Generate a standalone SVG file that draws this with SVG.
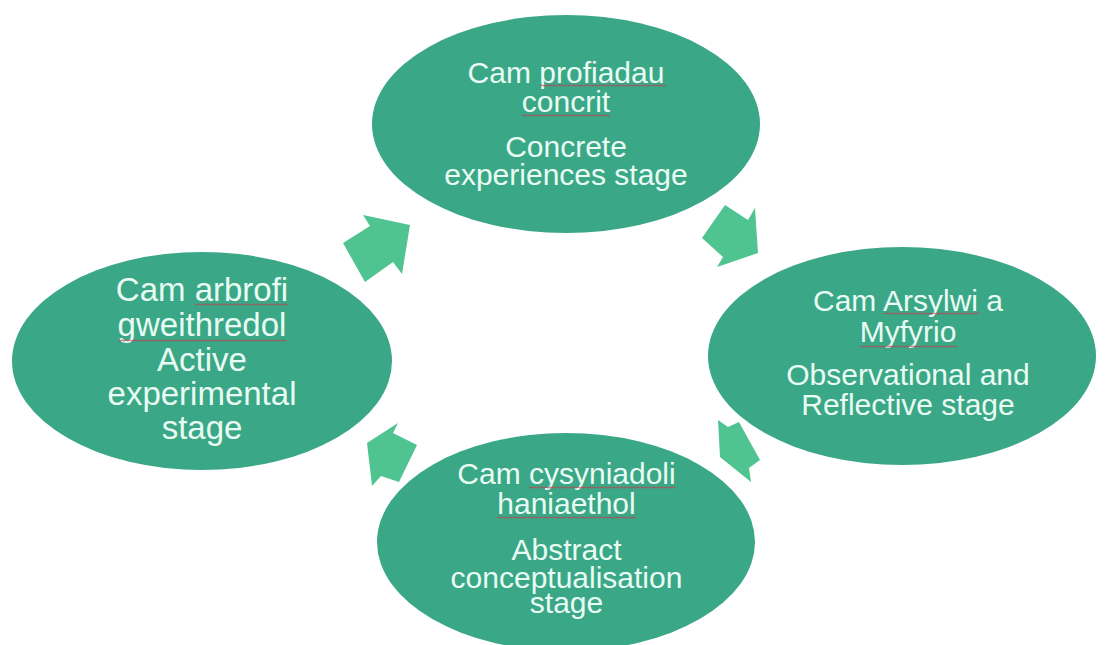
<svg xmlns="http://www.w3.org/2000/svg" width="1106" height="645" viewBox="0 0 1106 645">
  <defs>
    <style>
      .node { fill: #3aa886; }
      .arrow { fill: #50c490; }
      .t { font-family: "Liberation Sans", Arial, sans-serif; fill: #e9fbf3; text-anchor: middle; }
      .s30 { font-size: 30px; }
      .s33 { font-size: 33px; }
      .sq { fill: url(#squig); }
    </style>
    <pattern id="squig" x="0" y="0" width="4" height="3" patternUnits="userSpaceOnUse">
      <path d="M0,2.2 L2,0.8 L4,2.2" fill="none" stroke="#c2394e" stroke-width="0.9"/>
    </pattern>
  </defs>
  <rect width="1106" height="645" fill="#ffffff"/>

  <g id="connectors">
    <polygon class="arrow" points="410,225 363,215 370,226 343,243 365,282 393,262 402,274"/>
    <polygon class="arrow" points="758,253 755,208 748,220 725,205 702,238 723,257 717,267"/>
    <polygon class="arrow" points="720,457 718,420 728,427 739,422 760,460 749,468 751,482"/>
    <polygon class="arrow" points="367,443 398,423 393,433 417,445 399,482 381,476 372,486"/>
  </g>

  <g id="node-concrete">
    <ellipse class="node" cx="566" cy="124" rx="194" ry="109"/>
    <text class="t s30" x="566" y="83">Cam profiadau</text>
    <text class="t s30" x="566" y="112">concrit</text>
    <text class="t s30" x="566" y="157">Concrete</text>
    <text class="t s30" x="566" y="185">experiences stage</text>
    <rect class="sq" x="540" y="84" width="126" height="3"/>
    <rect class="sq" x="522" y="114" width="88" height="3"/>
  </g>

  <g id="node-observational">
    <ellipse class="node" cx="902" cy="356" rx="194" ry="109"/>
    <text class="t s30" x="908" y="311">Cam Arsylwi a</text>
    <text class="t s30" x="908" y="342">Myfyrio</text>
    <text class="t s30" x="908" y="385">Observational and</text>
    <text class="t s30" x="908" y="415">Reflective stage</text>
    <rect class="sq" x="884" y="312" width="95" height="3"/>
    <rect class="sq" x="860" y="345" width="97" height="3"/>
  </g>

  <g id="node-abstract">
    <ellipse class="node" cx="566" cy="542" rx="189" ry="109"/>
    <text class="t s30" x="566.5" y="484">Cam cysyniadoli</text>
    <text class="t s30" x="566.5" y="514">haniaethol</text>
    <text class="t s30" x="566.5" y="560">Abstract</text>
    <text class="t s30" x="566.5" y="588">conceptualisation</text>
    <text class="t s30" x="566.5" y="613">stage</text>
    <rect class="sq" x="529" y="486" width="147" height="3"/>
    <rect class="sq" x="497" y="516" width="139" height="3"/>
  </g>

  <g id="node-active">
    <ellipse class="node" cx="202" cy="361" rx="190" ry="109"/>
    <text class="t s33" x="202" y="301">Cam arbrofi</text>
    <text class="t s33" x="202" y="336">gweithredol</text>
    <text class="t s33" x="202" y="371">Active</text>
    <text class="t s33" x="202" y="405">experimental</text>
    <text class="t s33" x="202" y="439">stage</text>
    <rect class="sq" x="195" y="303" width="93" height="3"/>
    <rect class="sq" x="118" y="339" width="168" height="3"/>
  </g>
</svg>
